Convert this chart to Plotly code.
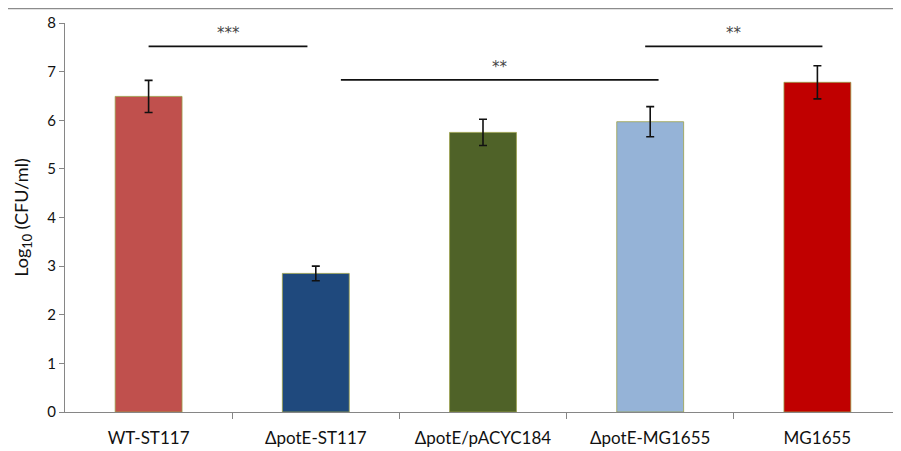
import plotly.graph_objects as go

categories = ["WT-ST117", "ΔpotE-ST117", "ΔpotE/pACYC184", "ΔpotE-MG1655", "MG1655"]
values = [6.49, 2.85, 5.75, 5.97, 6.78]
errors = [0.33, 0.15, 0.27, 0.31, 0.34]
colors = ["#C0504D", "#1F497D", "#4F6228", "#95B3D7", "#C00000"]

# significance brackets: start (category units), end, height, label
sig_start = [0.0, 1.15, 2.97]
sig_end = [0.95, 3.05, 4.03]
sig_y = [7.52, 6.83, 7.52]
sig_labels = ["***", "**", "**"]
y_ticks = [0, 1, 2, 3, 4, 5, 6, 7, 8]

x_idx = list(range(len(categories)))

fig = go.Figure()
fig.add_trace(go.Bar(
    x=x_idx, y=values, width=0.4,
    marker=dict(color=colors, line=dict(color="#9aa04a", width=0.8)),
    error_y=dict(type="data", array=errors, visible=True, color="#111111",
                 thickness=1.6, width=4),
    showlegend=False,
))

for s, e, yv, lab in zip(sig_start, sig_end, sig_y, sig_labels):
    fig.add_shape(type="line", xref="x", yref="y", x0=s, x1=e, y0=yv, y1=yv,
                  line=dict(color="#111111", width=1.6))
    fig.add_annotation(x=(s + e) / 2, y=yv, yref="y", xref="x", text=lab,
                       showarrow=False, yshift=13,
                       font=dict(size=15, color="#444444", family="DejaVu Sans"))

# thin frame line at top of image
fig.add_shape(type="line", xref="paper", yref="paper", x0=-0.1, x1=1.05,
              y0=1 + 14.5 / 389, y1=1 + 14.5 / 389,
              line=dict(color="#8c8c8c", width=1.5))

fig.update_layout(
    width=893, height=443,
    margin=dict(l=57, r=0, t=15, b=39),
    paper_bgcolor="white", plot_bgcolor="white",
    font=dict(family="Lato", color="#111111"),
    xaxis=dict(
        range=[-0.5, 4.5], tickmode="array", tickvals=x_idx, ticktext=categories,
        ticks="", showline=True, linecolor="#868686", linewidth=1.2,
        showgrid=False, zeroline=False, tickfont=dict(size=17),
        ticklabelstandoff=10,
        minor=dict(tickmode="array", tickvals=[0.5, 1.5, 2.5, 3.5],
                   ticks="outside", ticklen=6, tickcolor="#868686"),
    ),
    yaxis=dict(
        range=[0, 8], tickvals=y_ticks, ticks="outside", ticklen=5,
        tickcolor="#868686", showline=True, linecolor="#868686", linewidth=1.2,
        showgrid=False, zeroline=False, tickfont=dict(size=15),
        title=dict(text="Log<sub>10</sub> (CFU/ml)", font=dict(size=18), standoff=13),
    ),
)

fig.write_html("out.html")
